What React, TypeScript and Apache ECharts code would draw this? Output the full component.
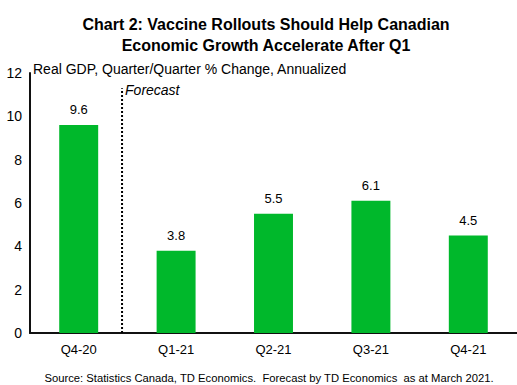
import React, { useEffect, useRef } from "react";
import * as echarts from "echarts";

const categories = ["Q4-20", "Q1-21", "Q2-21", "Q3-21", "Q4-21"];
const gdpGrowth = [9.6, 3.8, 5.5, 6.1, 4.5];
const yTicks = { min: 0, max: 12, interval: 2 };
const forecastDivider = 0.945; // position along the category span (0..5)
const forecastTop = 11.3;

export default function App() {
  const ref = useRef<HTMLDivElement>(null);
  useEffect(() => {
    if (!ref.current) return;
    const chart = echarts.init(ref.current, null, { renderer: "svg" });
    const font = "Liberation Sans, Arial, sans-serif";
    chart.setOption({
      animation: false,
      textStyle: { fontFamily: font },
      title: [
        {
          text: "Chart 2: Vaccine Rollouts Should Help Canadian\nEconomic Growth Accelerate After Q1",
          left: 261,
          textAlign: "center",
          top: 9,
          textStyle: { fontFamily: font, fontSize: 16, fontWeight: "bold", color: "#000", lineHeight: 21 },
        },
        {
          text: "Real GDP, Quarter/Quarter % Change, Annualized",
          left: 28,
          top: 57,
          textStyle: { fontFamily: font, fontSize: 14, fontWeight: "normal", color: "#000" },
        },
        {
          text: "Source: Statistics Canada, TD Economics.  Forecast by TD Economics  as at March 2021.",
          left: 264,
          textAlign: "center",
          top: 367,
          textStyle: { fontFamily: font, fontSize: 11.25, fontWeight: "normal", color: "#000" },
        },
      ],
      grid: { left: 30, right: 0, top: 73, bottom: 52, containLabel: false },
      xAxis: [
        {
          type: "category",
          data: categories,
          axisLine: { lineStyle: { color: "#111", width: 2 } },
          axisTick: { show: false },
          axisLabel: { color: "#000", fontSize: 13, margin: 10, fontFamily: font },
        },
        {
          type: "value",
          min: 0,
          max: 5,
          show: false,
        },
      ],
      yAxis: {
        type: "value",
        min: yTicks.min,
        max: yTicks.max,
        interval: yTicks.interval,
        axisLine: { show: true, lineStyle: { color: "#111", width: 2 } },
        axisTick: { show: false },
        splitLine: { show: false },
        axisLabel: { color: "#000", fontSize: 14, margin: 8, fontFamily: font },
      },
      series: [
        {
          type: "bar",
          data: gdpGrowth,
          barWidth: "40%",
          itemStyle: { color: "#00B82B" },
          label: {
            show: true,
            position: "top",
            distance: 9,
            color: "#000",
            fontSize: 13,
            fontFamily: font,
            formatter: (p: any) => p.value.toFixed(1),
          },
        },
        {
          type: "line",
          xAxisIndex: 1,
          data: [
            [forecastDivider, 0],
            [forecastDivider, forecastTop],
          ],
          symbol: "none",
          lineStyle: { color: "#000", width: 2, type: [2, 2] },
          markPoint: {
            symbol: "circle",
            symbolSize: 0,
            data: [{ coord: [forecastDivider, forecastTop], value: "Forecast" }],
            label: {
              show: true,
              position: "right",
              distance: 3,
              offset: [0, 2],
              formatter: "Forecast",
              color: "#000",
              fontSize: 14,
              fontStyle: "italic",
              fontFamily: font,
            },
          },
        },
      ],
    });
    return () => chart.dispose();
  }, []);
  return <div ref={ref} style={{ width: 517, height: 385, position: "absolute", left: 0, top: 0 }} />;
}
